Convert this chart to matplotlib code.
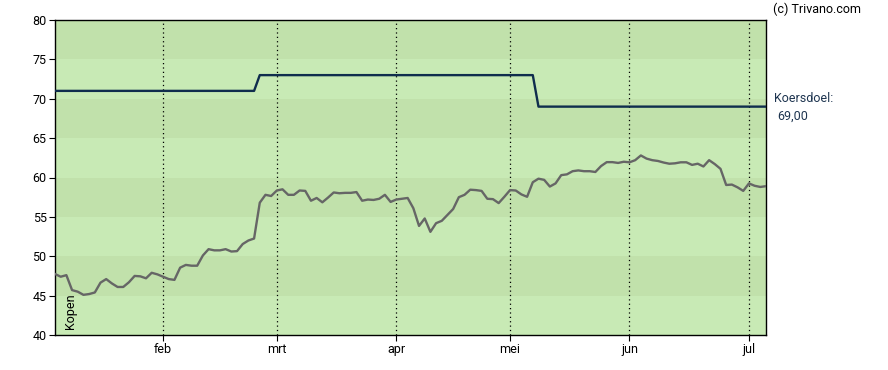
import numpy as np
import pandas as pd
import matplotlib.pyplot as plt

# slotkoersen per handelsdag, 7 jan t/m 4 jul 2025
koers = [47.75, 47.4, 47.6, 45.7, 45.5, 45.1, 45.2, 45.4, 46.65, 47.1,
         46.55, 46.1, 46.1, 46.7, 47.5, 47.45, 47.2, 47.9, 47.7, 47.4,
         47.1, 47.0, 48.55, 48.9, 48.8, 48.8, 50.1, 50.9, 50.75, 50.75,
         50.9, 50.6, 50.65, 51.55, 52.0, 52.25, 56.8, 57.8, 57.65, 58.35,
         58.5, 57.8, 57.8, 58.35, 58.3, 57.05, 57.4, 56.85, 57.45, 58.1,
         58.0, 58.05, 58.05, 58.15, 57.05, 57.2, 57.15, 57.3, 57.8, 56.9,
         57.2, 57.3, 57.4, 56.1, 53.85, 54.8, 53.1, 54.2, 54.5, 55.25,
         56.0, 57.5, 57.8, 58.45, 58.4, 58.3, 57.3, 57.25, 56.75, 57.55,
         58.4, 58.35, 57.85, 57.55, 59.4, 59.85, 59.7, 58.85, 59.25, 60.3,
         60.4, 60.8, 60.9, 60.8, 60.8, 60.7, 61.45, 61.95, 61.95, 61.85,
         62.0, 61.93, 62.2, 62.8, 62.4, 62.2, 62.1, 61.9, 61.75, 61.8,
         61.93, 61.93, 61.6, 61.75, 61.4, 62.2, 61.7, 61.1, 59.05, 59.1,
         58.75, 58.3, 59.25, 58.95, 58.8, 58.9]

# koersdoel: (waarde, aantal handelsdagen)
doel_stappen = [(71, 36), (73, 49), (69, 41)]
koersdoel = [w for w, n in doel_stappen for _ in range(n)]

vrije_dagen = ["2025-04-18", "2025-04-21", "2025-05-01"]
datums = pd.bdate_range("2025-01-07", periods=len(koers), freq="C",
                        holidays=vrije_dagen)

maanden = ["jan", "feb", "mrt", "apr", "mei", "jun", "jul"]

plt.rcParams['font.family'] = ['Roboto', 'DejaVu Sans']

fig = plt.figure(figsize=(8.88, 3.7), dpi=100)
ax = fig.add_axes([55/888, 35/370, 711/888, 315/370])

x = np.arange(len(koers))

# horizontale banden
for i, lo in enumerate(range(40, 80, 5)):
    kleur = "#c8eab5" if i % 2 == 0 else "#c1e1ab"
    ax.axhspan(lo, lo + 5, color=kleur, zorder=0, lw=0)

# maandgrenzen
m = datums.month
ticks = [i for i in range(1, len(m)) if m[i] != m[i-1]]
labels = [maanden[m[i] - 1] for i in ticks]
for t in ticks:
    ax.axvline(t, color="black", ls=(0, (1, 2.5)), lw=0.9, zorder=1)

ax.plot(x, koersdoel, color="#0f2d4d", lw=1.7, zorder=3)
ax.plot(x, koers, color="#666666", lw=1.7, zorder=3)

ax.set_xlim(0, len(koers) - 1)
ax.set_ylim(40, 80)
ax.set_yticks(range(40, 81, 5))
ax.set_xticks(ticks)
ax.set_xticklabels(labels)
ax.tick_params(labelsize=9, length=4, width=0.8, pad=2)

for s in ax.spines.values():
    s.set_linewidth(1)

ax.text(0.012, 0.02, "Kopen", rotation=90, transform=ax.transAxes,
        fontsize=9, ha="left", va="bottom")

fig.text(773/888, 1 - 9/370, "(c) Trivano.com", fontsize=9,
         ha="left", va="center")
fig.text(774/888, 1 - 99/370, "Koersdoel:", fontsize=9,
         ha="left", va="center", color="#1e3550")
fig.text(777/888, 1 - 116/370, "69,00", fontsize=9,
         ha="left", va="center", color="#1e3550")

plt.savefig("out.png", dpi=100)
